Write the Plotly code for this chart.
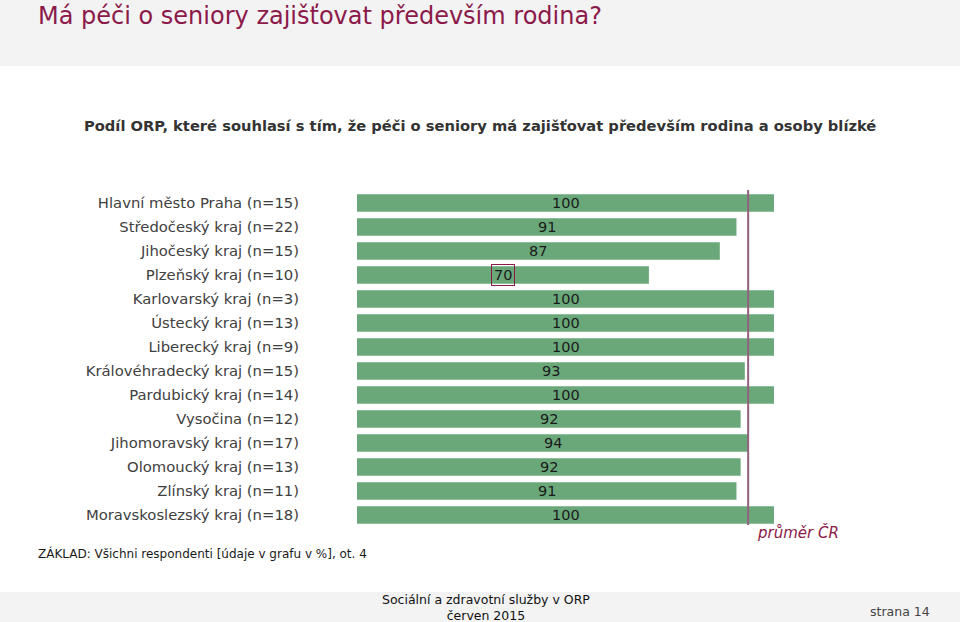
import plotly.graph_objects as go

kraje = [
    "Hlavní město Praha (n=15)",
    "Středočeský kraj (n=22)",
    "Jihočeský kraj (n=15)",
    "Plzeňský kraj (n=10)",
    "Karlovarský kraj (n=3)",
    "Ústecký kraj (n=13)",
    "Liberecký kraj (n=9)",
    "Královéhradecký kraj (n=15)",
    "Pardubický kraj (n=14)",
    "Vysočina (n=12)",
    "Jihomoravský kraj (n=17)",
    "Olomoucký kraj (n=13)",
    "Zlínský kraj (n=11)",
    "Moravskoslezský kraj (n=18)",
]
hodnoty = [100, 91, 87, 70, 100, 100, 100, 93, 100, 92, 94, 92, 91, 100]
prumer_cr = 93.8
zvyrazneny = "Plzeňský kraj (n=10)"

FONT = "DejaVu Sans"
GREEN = "#6aa87a"
MAROON = "#8b1a4a"
LINE = "#94607f"

W, H = 960, 622
L, R, T, B = 357, 186, 191, 95
pw, ph = W - L - R, H - T - B


def px(x):
    return (x - L) / pw


def py(y):
    return (H - B - y) / ph


fig = go.Figure()
fig.add_trace(go.Bar(
    x=hodnoty, y=kraje, orientation="h",
    marker=dict(color=GREEN, line=dict(width=0)),
    width=0.73, hoverinfo="x+y",
))

for k, v in zip(kraje, hodnoty):
    a = dict(x=v / 2, y=k, xref="x", yref="y", text=str(v), showarrow=False,
             font=dict(family=FONT, size=14.5, color="#1a1a1a"))
    if k == zvyrazneny:
        a.update(bordercolor=MAROON, borderwidth=1, borderpad=2)
    fig.add_annotation(**a)

fig.add_annotation(x=px(755), y=py(532), xref="paper", yref="paper", xanchor="left", yanchor="middle",
                   text="<i>průměr ČR</i>", showarrow=False,
                   font=dict(family=FONT, size=15, color=MAROON))
fig.add_annotation(x=px(36), y=py(16), xref="paper", yref="paper", xanchor="left", yanchor="middle",
                   text="Má péči o seniory zajišťovat především rodina?", showarrow=False,
                   font=dict(family=FONT, size=24, color=MAROON))
fig.add_annotation(x=px(480), y=py(125), xref="paper", yref="paper", xanchor="center", yanchor="middle",
                   text="<b>Podíl ORP, které souhlasí s tím, že péči o seniory má zajišťovat především rodina a osoby blízké</b>",
                   showarrow=False, font=dict(family=FONT, size=14.7, color="#333333"))
fig.add_annotation(x=px(36), y=py(553), xref="paper", yref="paper", xanchor="left", yanchor="middle",
                   text="ZÁKLAD: Všichni respondenti [údaje v grafu v %], ot. 4", showarrow=False,
                   font=dict(family=FONT, size=12, color="#1a1a1a"))
fig.add_annotation(x=px(486), y=py(607.5), xref="paper", yref="paper", xanchor="center", yanchor="middle",
                   text="Sociální a zdravotní služby v ORP<br>červen 2015", showarrow=False,
                   font=dict(family=FONT, size=12.5, color="#111111"))
fig.add_annotation(x=px(932), y=py(611), xref="paper", yref="paper", xanchor="right", yanchor="middle",
                   text="strana 14", showarrow=False,
                   font=dict(family=FONT, size=12.5, color="#444444"))

# bands
fig.add_shape(type="rect", xref="paper", yref="paper", x0=px(0), x1=px(W), y0=py(66), y1=py(0),
              fillcolor="#f3f3f3", line=dict(width=0), layer="below")
fig.add_shape(type="rect", xref="paper", yref="paper", x0=px(0), x1=px(W), y0=py(H), y1=py(592),
              fillcolor="#f3f3f3", line=dict(width=0), layer="below")
# average line
fig.add_shape(type="line", xref="x", yref="paper", x0=prumer_cr, x1=prumer_cr, y0=py(525), y1=py(190),
              line=dict(color=LINE, width=2))

fig.update_layout(
    width=W, height=H,
    margin=dict(l=L, r=R, t=T, b=B, pad=0),
    paper_bgcolor="white", plot_bgcolor="white",
    showlegend=False, bargap=0.27,
    xaxis=dict(range=[0, 100], visible=False, fixedrange=True),
    yaxis=dict(autorange="reversed", showgrid=False, zeroline=False, showline=False,
               ticks="", ticklabelstandoff=57, fixedrange=True,
               tickfont=dict(family=FONT, size=14.8, color="#404040")),
    font=dict(family=FONT),
)

fig.write_html("out.html", config={"displayModeBar": False},
               post_script="document.body.style.margin='0';document.body.style.overflow='hidden';")
